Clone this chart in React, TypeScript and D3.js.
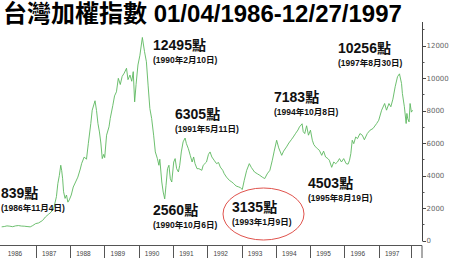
import React from "react";
import * as d3 from "d3";

const title = "台灣加權指數 01/04/1986-12/27/1997";

const dates: string[] = [
  "1986-01-04","1986-02-01","1986-03-01","1986-04-01","1986-05-01","1986-06-01","1986-07-01","1986-08-01","1986-09-01","1986-10-01","1986-11-04","1986-12-01",
  "1987-01-01","1987-02-01","1987-03-15","1987-04-15","1987-05-15","1987-06-15","1987-07-15","1987-08-10","1987-08-25","1987-09-10","1987-09-25","1987-10-05","1987-10-15","1987-10-25","1987-11-10","1987-11-25","1987-12-10","1987-12-25",
  "1988-01-15","1988-02-05","1988-03-01","1988-03-25","1988-04-20","1988-05-05","1988-06-01","1988-06-25","1988-07-15","1988-08-10","1988-08-25","1988-09-24","1988-10-10","1988-10-25","1988-11-10","1988-11-25","1988-12-10","1988-12-25",
  "1989-01-05","1989-01-25","1989-02-20","1989-03-05","1989-04-01","1989-04-20","1989-05-10","1989-05-30","1989-06-20","1989-07-10","1989-08-01","1989-08-25","1989-09-10","1989-10-01","1989-10-20","1989-11-05","1989-11-20","1989-12-05","1989-12-25",
  "1990-01-15","1990-02-10","1990-03-05","1990-03-25","1990-04-12","1990-05-01","1990-05-20","1990-06-10","1990-06-28","1990-07-20","1990-08-05","1990-08-15","1990-09-05","1990-09-20","1990-10-06","1990-10-20","1990-11-05","1990-11-20","1990-12-05","1990-12-20",
  "1991-01-10","1991-01-25","1991-02-10","1991-03-01","1991-03-15","1991-04-01","1991-04-20","1991-05-11","1991-05-25","1991-06-15","1991-07-05","1991-07-25","1991-08-10","1991-08-25","1991-09-15","1991-10-05","1991-11-05","1991-11-20","1991-12-25",
  "1992-01-15","1992-02-01","1992-02-20","1992-03-15","1992-04-10","1992-05-01","1992-05-20","1992-06-15","1992-07-01","1992-07-25","1992-08-25","1992-09-20","1992-10-10","1992-11-05","1992-12-01","1992-12-20",
  "1993-01-09","1993-01-30","1993-02-25","1993-03-25","1993-04-15","1993-05-20","1993-06-20","1993-07-15","1993-08-10","1993-09-05","1993-10-01","1993-10-30","1993-11-25","1993-12-15",
  "1994-01-10","1994-02-01","1994-03-05","1994-03-25","1994-04-25","1994-05-20","1994-06-15","1994-07-06","1994-08-01","1994-08-25","1994-09-10","1994-10-08","1994-10-20","1994-11-05","1994-11-25","1994-12-15",
  "1995-01-05","1995-01-25","1995-02-10","1995-03-01","1995-03-20","1995-04-10","1995-05-05","1995-05-25","1995-06-15","1995-07-10","1995-07-25","1995-08-19","1995-09-10","1995-10-01","1995-10-20","1995-11-10","1995-12-01","1995-12-25",
  "1996-01-20","1996-02-10","1996-02-25","1996-03-10","1996-03-25","1996-04-10","1996-05-01","1996-05-20","1996-06-15","1996-07-10","1996-08-01","1996-09-01","1996-10-01","1996-11-01","1996-12-10",
  "1997-01-01","1997-02-01","1997-03-05","1997-03-25","1997-04-20","1997-05-10","1997-06-01","1997-06-25","1997-07-20","1997-08-10","1997-09-01","1997-09-10","1997-10-01","1997-10-20","1997-10-28","1997-11-05","1997-11-20","1997-12-01","1997-12-15","1997-12-27"
];

const values: number[] = [
  840,860,900,880,850,900,920,890,880,860,839,920,
  1040,1080,1230,1450,1600,1750,2050,2700,3500,4000,4630,4300,3800,3000,2590,2800,2360,2500,
  2800,3290,3600,3900,4400,4750,5140,5000,5980,7200,8020,8600,8000,7200,6680,6000,5040,5300,
  5100,6480,7000,7510,8300,8900,9150,9980,9600,10100,10300,10600,9900,10180,9800,10390,8530,9600,10800,
  11400,12495,11620,11000,9560,8120,7510,6480,5450,5040,4630,5000,3600,2980,2560,3390,4420,4630,3800,3600,
  4830,5040,4420,4220,4630,5450,6070,6305,5960,5650,5240,4830,5140,4730,4420,4420,4320,4630,4830,
  5300,5450,5140,4940,4730,4800,4520,4320,4110,3900,3700,3600,3500,3350,3300,3250,
  3135,3700,4320,4730,4500,4210,4100,4010,3900,3810,4100,4320,4940,5500,
  6170,5700,5240,5500,5760,6000,6200,6370,6600,6800,6990,7183,6700,6580,7060,6480,
  6790,6170,5900,5760,5650,5550,5240,5500,5140,5040,4940,4503,4830,4730,4830,5040,4830,5040,
  4730,4700,4940,5350,6170,5960,6370,6270,6580,6480,6200,6580,6790,6890,7200,
  7400,8020,8430,8020,8430,8230,8700,9460,10080,10256,9660,9050,8230,7200,7820,7510,7300,8430,7900,8020
];

const years: number[] = [1986,1987,1988,1989,1990,1991,1992,1993,1994,1995,1996,1997];
const yTickValues: number[] = [0,2000,4000,6000,8000,10000,12000];
const yMinorValues: number[] = [1000,3000,5000,7000,9000,11000,13000];

const annPoints: string[] = ["839點","12495點","6305點","2560點","3135點","7183點","4503點","10256點"];
const annDates: string[] = ["(1986年11月4日)","(1990年2月10日)","(1991年5月11日)","(1990年10月6日)","(1993年1月9日)","(1994年10月8日)","(1995年8月19日)","(1997年8月30日)"];
const annPos: [number, number][] = [[1,198],[153,49.5],[175,119],[153,215],[232,211.5],[274,101.5],[308,188],[338,52.5]];

const parse = d3.timeParse("%Y-%m-%d");

export default function App() {
  const W = 450, H = 258;
  const x = d3.scaleTime()
    .domain([new Date(1986, 0, 1), new Date(1998, 0, 1)])
    .range([1.4, 413]);
  const y = d3.scaleLinear().domain([0, 12000]).range([240.5, 45.5]);
  const data = dates.map((d, i) => ({ date: parse(d) as Date, v: values[i] }));
  const line = d3.line<{ date: Date; v: number }>()
    .x(d => x(d.date))
    .y(d => y(d.v));
  const axisX = 422.5;
  const font = "'Liberation Sans', Arial, 'Noto Sans CJK TC', sans-serif";
  const boxTop = 245.5;

  return (
    <svg width={W} height={H} style={{ position: "absolute", left: 0, top: 0, background: "#fff" }}>
      <rect x={0} y={0} width={W} height={H} fill="#fff" />
      <text x={3} y={22} fontFamily={font} fontWeight="bold" fontSize={24} fill="#000">{title}</text>

      {/* right axis */}
      <line x1={axisX} x2={axisX} y1={22} y2={241} stroke="#444" strokeWidth={1} />
      {yMinorValues.map(v => (
        <line key={"m" + v} x1={axisX} x2={axisX + 2} y1={Math.round(y(v)) + 0.5} y2={Math.round(y(v)) + 0.5} stroke="#555" />
      ))}
      {yTickValues.map(v => (
        <g key={"t" + v}>
          <line x1={axisX} x2={axisX + 3.5} y1={Math.round(y(v)) + 0.5} y2={Math.round(y(v)) + 0.5} stroke="#444" />
          <text x={axisX + 4} y={y(v) + 2.5} fontFamily="'DejaVu Sans', Verdana, sans-serif" fontSize={7} fill="#666">{v}</text>
        </g>
      ))}

      {/* year boxes */}
      <line x1={0} x2={axisX - 0.5} y1={boxTop} y2={boxTop} stroke="#555" />
      <line x1={axisX - 0.5} x2={axisX - 0.5} y1={boxTop} y2={H} stroke="#555" />
      {years.map(yr => {
        const x0 = x(new Date(yr, 0, 1));
        const x1 = x(new Date(yr + 1, 0, 1));
        return (
          <g key={yr}>
            {yr > 1986 && <line x1={Math.round(x0) + 0.5} x2={Math.round(x0) + 0.5} y1={boxTop} y2={H} stroke="#555" />}
            {yr === 1997 && <line x1={Math.round(x1) - 1.5} x2={Math.round(x1) - 1.5} y1={boxTop} y2={H} stroke="#555" />}
            <text x={x0 + 13.5} y={256} textAnchor="middle" fontFamily={font} fontSize={6.5} fill="#444">{yr}</text>
          </g>
        );
      })}

      {/* index line */}
      <path d={line(data) || ""} fill="none" stroke="#5cb85f" strokeWidth={0.9} strokeLinejoin="round" />

      {/* highlight ellipse */}
      <ellipse cx={263.5} cy={214} rx={40.5} ry={26} fill="none" stroke="#e0534d" strokeWidth={1} />

      {/* annotations */}
      {annPoints.map((t, i) => (
        <g key={t}>
          <text x={annPos[i][0]} y={annPos[i][1]} fontFamily={font} fontWeight="bold" fontSize={14} fill="#111">{t}</text>
          <text x={annPos[i][0]} y={annPos[i][1] + 13} fontFamily={font} fontWeight="bold" fontSize={8.5} fill="#111">{annDates[i]}</text>
        </g>
      ))}
    </svg>
  );
}
